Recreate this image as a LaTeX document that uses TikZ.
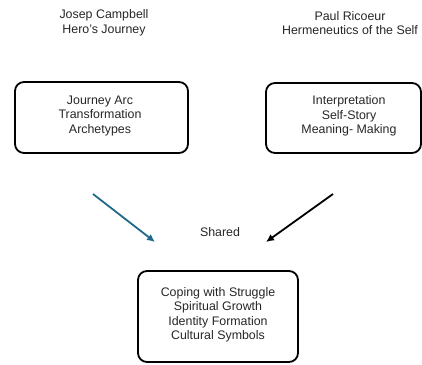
\documentclass[tikz,border=0pt]{standalone}
\usepackage{fontspec}
\setmainfont{Liberation Sans}
\usetikzlibrary{arrows.meta}
\definecolor{teal1}{HTML}{1F6A8A}
\begin{document}
\begin{tikzpicture}[x=1pt,y=-1pt,
  txt/.style={font=\fontsize{12.4}{14.5}\selectfont, align=center, text=black!85, inner sep=0pt},
  box/.style={draw, line width=1.8pt, rounded corners=9pt, inner sep=0pt},
  arr/.style={line width=1.8pt, -{Latex[length=8pt,width=7.5pt]}}]
\useasboundingbox (0,0) rectangle (422,364);
\node[txt] (t1) at (104,23) {Josep Campbell\\Hero's Journey};
\node[txt] (t2) at (350,23) {Paul Ricoeur\\Hermeneutics of the Self};
\node[box, minimum width=173pt, minimum height=71pt] (b1) at (101.5,117.5) {};
\node[txt] (b1t) at (100,116) {Journey Arc\\Transformation\\Archetypes};
\node[box, minimum width=155pt, minimum height=70pt] (b2) at (343.5,118) {};
\node[txt] (b2t) at (349,116) {Interpretation\\Self-Story\\Meaning- Making};
\node[box, minimum width=160pt, minimum height=91pt] (b3) at (218,316.5) {};
\node[txt] (b3t) at (218,315) {Coping with Struggle\\Spiritual Growth\\Identity Formation\\Cultural Symbols};
\node[txt] (sh) at (220,232) {Shared};
\coordinate (a1s) at (93,194);
\coordinate (a1e) at (155,242);
\coordinate (a2s) at (333,194);
\coordinate (a2e) at (266,242);
\draw[arr, teal1] (a1s) -- (a1e);
\draw[arr, black] (a2s) -- (a2e);
\end{tikzpicture}
\end{document}
